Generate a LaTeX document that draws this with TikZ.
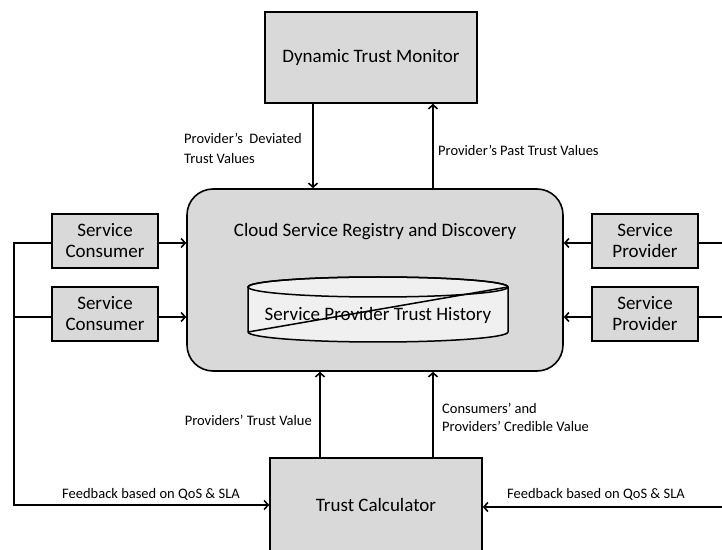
\documentclass[tikz,border=0pt]{standalone}
\usepackage{fontspec}
\setmainfont{Carlito}
\usetikzlibrary{arrows.meta}
\definecolor{boxgray}{HTML}{D9D9D9}
\definecolor{drumfill}{HTML}{F0F0F0}
\tikzset{
  x=1pt, y=1pt,
  wire/.style={line width=1.6pt, line cap=rect},
  flow/.style={wire, -{Straight Barb[length=4pt,width=9pt]}},
  block/.style={draw, line width=1.6pt, fill=boxgray, inner sep=0pt, align=center,
                font=\fontsize{19}{21}\selectfont},
  bigblock/.style={block, font=\fontsize{19}{23}\selectfont},
  bigtext/.style={inner sep=0pt, font=\fontsize{19}{23}\selectfont},
  note/.style={inner sep=0pt, align=left, font=\fontsize{14.5}{18}\selectfont},
}
\begin{document}
\begin{tikzpicture}
\useasboundingbox (0,0) rectangle (722,549);
\clip (0,0) rectangle (722,549);

% main blocks
\node[bigblock, minimum width=212pt, minimum height=91pt] (dtm) at (371,491.5) {Dynamic Trust Monitor};
\node[draw, line width=1.6pt, fill=boxgray, rounded corners=26pt,
      minimum width=376pt, minimum height=182pt] (reg) at (375,269) {};
\node[bigtext] (regtxt) at (375,317) {Cloud Service Registry and Discovery};
\node[bigblock, minimum width=212pt, minimum height=94pt] (tc) at (376,44) {};
\node[bigtext] (tctxt) at (376,44) {Trust Calculator};

% trust history drum
\draw[line width=1.5pt, fill=drumfill]
  (248,262) -- (248,217) arc[start angle=180, end angle=360, x radius=130, y radius=10]
  -- (508,262) arc[start angle=0, end angle=180, x radius=130, y radius=10] -- cycle;
\draw[line width=1.5pt] (378,262) ellipse[x radius=130, y radius=10];
\draw[line width=1.5pt] (248,217) -- (508,262);
\node[bigtext] (hist) at (378,234) {Service Provider Trust History};

% consumers and providers
\node[block, minimum width=106pt, minimum height=54pt] (sc1) at (105,308) {Service\\Consumer};
\node[block, minimum width=106pt, minimum height=54pt] (sc2) at (105,235) {Service\\Consumer};
\node[block, minimum width=106pt, minimum height=54pt] (sp1) at (645,308) {Service\\Provider};
\node[block, minimum width=106pt, minimum height=54pt] (sp2) at (645,235) {Service\\Provider};

% junction points of the feedback wiring
\coordinate (lc1) at (14,306);
\coordinate (lc2) at (14,232);
\coordinate (lbot) at (14,44);
\coordinate (rc1) at (730,306);
\coordinate (rc2) at (730,232);
\coordinate (rbot) at (730,42);

% monitor <-> registry
\draw[flow] (dtm.south -| 313,0) -- (reg.north -| 313,0);
\draw[flow] (reg.north -| 433,0) -- (dtm.south -| 433,0);

% consumers / providers -> registry
\draw[flow] (sc1.east |- lc1) -- (reg.west |- lc1);
\draw[flow] (sc2.east |- lc2) -- (reg.west |- lc2);
\draw[flow] (sp1.west |- rc1) -- (reg.east |- rc1);
\draw[flow] (sp2.west |- rc2) -- (reg.east |- rc2);

% calculator -> registry
\draw[flow] (tc.north -| 320,0) -- (reg.south -| 320,0);
\draw[flow] (tc.north -| 433,0) -- (reg.south -| 433,0);

% feedback wiring
\draw[wire] (sc1.west |- lc1) -- (lc1) -- (lbot);
\draw[wire] (sc2.west |- lc2) -- (lc2);
\draw[flow] (lbot) -- (tc.west |- lbot);
\draw[wire] (sp1.east |- rc1) -- (rc1);
\draw[wire] (sp2.east |- rc2) -- (rc2);
\draw[flow] (rbot) -- (tc.east |- rbot);

% labels
\node[note, anchor=west, font=\fontsize{14.5}{20}\selectfont] (l1) at (184,401) {Provider’s\ \ Deviated\\Trust Values};
\node[note, anchor=west] (l2) at (438,399) {Provider’s Past Trust Values};
\node[note, anchor=east] (l3) at (312,129) {Providers’ Trust Value};
\node[note, anchor=west] (l4) at (442,132) {Consumers’ and\\Providers’ Credible Value};
\node[note, anchor=south west] (l5) at (62,48) {Feedback based on QoS \& SLA};
\node[note, anchor=south west] (l6) at (507,48) {Feedback based on QoS \& SLA};
\end{tikzpicture}
\end{document}
